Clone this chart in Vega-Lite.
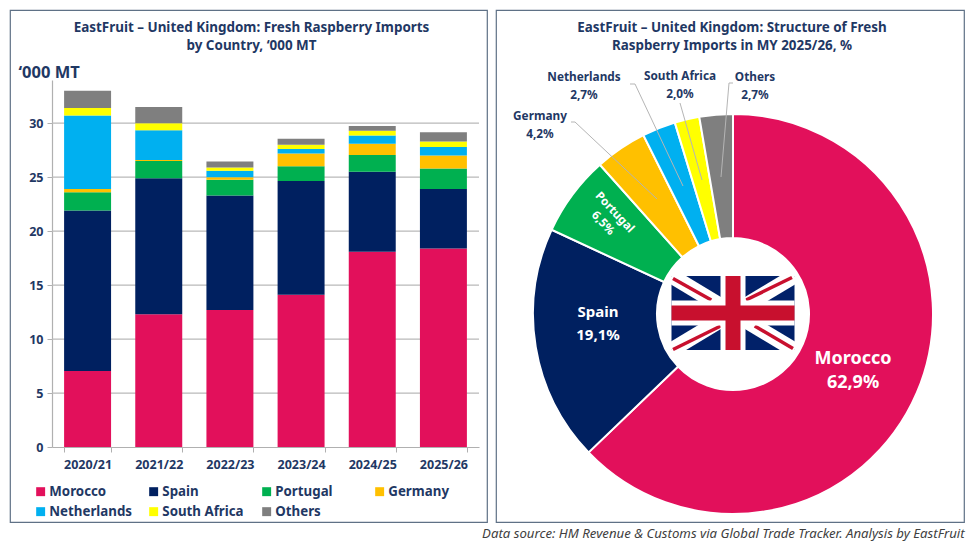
{"$schema":"https://vega.github.io/schema/vega-lite/v6.json","padding":{"left":9,"top":9,"right":4,"bottom":6},"background":"white","config":{"axis":{"disable":true},"view":{"stroke":"#5f7186","strokeWidth":1.2},"font":"Noto Sans"},
"datasets":{"imports":[
{"season":"2020/21","country":"Morocco","n":1,"kt":7.05},{"season":"2020/21","country":"Spain","n":2,"kt":14.85},{"season":"2020/21","country":"Portugal","n":3,"kt":1.7},{"season":"2020/21","country":"Germany","n":4,"kt":0.3},{"season":"2020/21","country":"Netherlands","n":5,"kt":6.8},{"season":"2020/21","country":"South Africa","n":6,"kt":0.7},{"season":"2020/21","country":"Others","n":7,"kt":1.6},
{"season":"2021/22","country":"Morocco","n":1,"kt":12.3},{"season":"2021/22","country":"Spain","n":2,"kt":12.6},{"season":"2021/22","country":"Portugal","n":3,"kt":1.6},{"season":"2021/22","country":"Germany","n":4,"kt":0.1},{"season":"2021/22","country":"Netherlands","n":5,"kt":2.75},{"season":"2021/22","country":"South Africa","n":6,"kt":0.65},{"season":"2021/22","country":"Others","n":7,"kt":1.5},
{"season":"2022/23","country":"Morocco","n":1,"kt":12.7},{"season":"2022/23","country":"Spain","n":2,"kt":10.6},{"season":"2022/23","country":"Portugal","n":3,"kt":1.45},{"season":"2022/23","country":"Germany","n":4,"kt":0.25},{"season":"2022/23","country":"Netherlands","n":5,"kt":0.6},{"season":"2022/23","country":"South Africa","n":6,"kt":0.3},{"season":"2022/23","country":"Others","n":7,"kt":0.55},
{"season":"2023/24","country":"Morocco","n":1,"kt":14.1},{"season":"2023/24","country":"Spain","n":2,"kt":10.55},{"season":"2023/24","country":"Portugal","n":3,"kt":1.35},{"season":"2023/24","country":"Germany","n":4,"kt":1.2},{"season":"2023/24","country":"Netherlands","n":5,"kt":0.4},{"season":"2023/24","country":"South Africa","n":6,"kt":0.4},{"season":"2023/24","country":"Others","n":7,"kt":0.55},
{"season":"2024/25","country":"Morocco","n":1,"kt":18.1},{"season":"2024/25","country":"Spain","n":2,"kt":7.4},{"season":"2024/25","country":"Portugal","n":3,"kt":1.55},{"season":"2024/25","country":"Germany","n":4,"kt":1.05},{"season":"2024/25","country":"Netherlands","n":5,"kt":0.75},{"season":"2024/25","country":"South Africa","n":6,"kt":0.45},{"season":"2024/25","country":"Others","n":7,"kt":0.45},
{"season":"2025/26","country":"Morocco","n":1,"kt":18.4},{"season":"2025/26","country":"Spain","n":2,"kt":5.5},{"season":"2025/26","country":"Portugal","n":3,"kt":1.9},{"season":"2025/26","country":"Germany","n":4,"kt":1.2},{"season":"2025/26","country":"Netherlands","n":5,"kt":0.8},{"season":"2025/26","country":"South Africa","n":6,"kt":0.5},{"season":"2025/26","country":"Others","n":7,"kt":0.85}],
"structure":[{"country":"Morocco","n":1,"share":62.9,"label":"Morocco\n62,9%"},{"country":"Spain","n":2,"share":19.1,"label":"Spain\n19,1%"},{"country":"Portugal","n":3,"share":6.5,"label":"Portugal\n6,5%"},{"country":"Germany","n":4,"share":4.2,"label":"Germany\n4,2%"},{"country":"Netherlands","n":5,"share":2.7,"label":"Netherlands\n2,7%"},{"country":"South Africa","n":6,"share":2.0,"label":"South Africa\n2,0%"},{"country":"Others","n":7,"share":2.7,"label":"Others\n2,7%"}],
"ticks":[{"tick":5},{"tick":10},{"tick":15},{"tick":20},{"tick":25},{"tick":30}],
"decor":[{"part":"decor"}]},
"title":{"text":"Data source: HM Revenue & Customs via Global Trade Tracker. Analysis by EastFruit","orient":"bottom","anchor":"end","offset":5,"fontSize":13.2,"fontStyle":"italic","fontWeight":"normal","color":"#404040","font":"Noto Sans"},
"spacing":7,
"hconcat":[
{"width":477,"height":512,
"title":{"text":["EastFruit – United Kingdom: Fresh Raspberry Imports","by Country, ‘000 MT"],"offset":-42,"anchor":"middle","fontSize":13.45,"fontWeight":"bold","color":"#1f3864","font":"Noto Sans","lineHeight":18,"dx":3},
"layer":[
{"data":{"name":"ticks"},"mark":{"type":"rule","color":"#b9b9b9","strokeWidth":1.2},"encoding":{"x":{"datum":0,"scale":{"domain":[0,1],"range":[42,469]}},"x2":{"datum":1},"y":{"field":"tick","type":"quantitative","scale":{"domain":[0,34],"range":[437,70],"nice":false},"axis":{"disable":false,"offset":-42,"values":[0,5,10,15,20,25,30],"grid":false,"title":"‘000 MT","titleAngle":0,"titleX":-34,"titleY":62,"titleAlign":"left","titleBaseline":"middle","titleFont":"Noto Sans","titleFontSize":16.5,"titleFontWeight":"bold","titleColor":"#1f3864","labelFont":"Noto Sans","labelFontSize":12.5,"labelFontWeight":"bold","labelColor":"#1f3864","labelPadding":4,"domainColor":"#b0b0b0","domainWidth":1.2,"tickColor":"#b0b0b0","tickSize":5}}}},
{"data":{"name":"imports"},"mark":{"type":"bar"},"encoding":{
"x":{"field":"season","type":"nominal","scale":{"range":[42,469],"paddingInner":0.34,"paddingOuter":0.17},"axis":{"disable":false,"title":null,"offset":-75,"labelAngle":0,"labelFont":"Noto Sans","labelFontSize":12.5,"labelFontWeight":"bold","labelColor":"#1f3864","labelPadding":6,"domainColor":"#b0b0b0","domainWidth":1.2,"tickColor":"#b0b0b0","tickSize":5,"tickBand":"extent","grid":false}},
"y":{"field":"kt","type":"quantitative","stack":true,"scale":{"domain":[0,34],"range":[437,70],"nice":false}},
"color":{"field":"country","type":"nominal","scale":{"domain":["Morocco","Spain","Portugal","Germany","Netherlands","South Africa","Others"],"range":["#e2105b","#002060","#00b050","#ffc000","#00b0f0","#ffff00","#7f7f7f"]},"legend":{"title":null,"orient":"none","legendX":24,"legendY":475,"columns":4,"direction":"horizontal","gridAlign":"all","columnPadding":15,"rowPadding":6,"symbolType":"square","symbolSize":80,"symbolStrokeWidth":0,"labelFont":"Noto Sans","labelFontSize":13.3,"labelFontWeight":"bold","labelColor":"#1f3864","labelOffset":2}},
"order":{"field":"n","type":"quantitative"}}}
],"resolve":{"scale":{"x":"independent"},"axis":{"y":"independent"}}},
{"width":468,"height":512,
"title":{"text":["EastFruit – United Kingdom: Structure of Fresh","Raspberry Imports in MY 2025/26, %"],"offset":-42,"anchor":"middle","fontSize":13.4,"fontWeight":"bold","color":"#1f3864","font":"Noto Sans","lineHeight":18,"dx":2},
"layer":[
{"data":{"name":"structure"},"transform":[{"stack":"share","sort":[{"field":"n","order":"ascending"}],"as":["s0","s1"]}],"mark":{"type":"arc","outerRadius":200,"innerRadius":76,"stroke":"white","strokeWidth":2},"encoding":{"x":{"datum":0,"scale":{"domain":[-237,231],"nice":false,"zero":false}},"y":{"datum":0,"scale":{"domain":[-208,304],"nice":false,"zero":false}},"theta":{"field":"s0","type":"quantitative","scale":{"domain":[0,100.1]}},"theta2":{"field":"s1"},"color":{"field":"country","type":"nominal","scale":{"domain":["Morocco","Spain","Portugal","Germany","Netherlands","South Africa","Others"],"range":["#e2105b","#002060","#00b050","#ffc000","#00b0f0","#ffff00","#7f7f7f"]},"legend":null}}},
{"data":{"name":"decor"},"mark":{"type":"rect","color":"#012169"},"encoding":{"x":{"datum":-61.5},"x2":{"datum":61.5},"y":{"datum":38},"y2":{"datum":-36}}},
{"data":{"name":"decor"},"mark":{"type":"rule","color":"white","strokeWidth":15},"encoding":{"x":{"datum":-61.5},"x2":{"datum":61.5},"y":{"datum":38},"y2":{"datum":-36}}},
{"data":{"name":"decor"},"mark":{"type":"rule","color":"white","strokeWidth":15},"encoding":{"x":{"datum":-61.5},"x2":{"datum":61.5},"y":{"datum":-36},"y2":{"datum":38}}},
{"data":{"name":"decor"},"mark":{"type":"rule","color":"#c8102e","strokeWidth":3.5},"encoding":{"x":{"datum":-60},"x2":{"datum":-21.7},"y":{"datum":35.5},"y2":{"datum":14}}},
{"data":{"name":"decor"},"mark":{"type":"rule","color":"#c8102e","strokeWidth":3.5},"encoding":{"x":{"datum":59},"x2":{"datum":13},"y":{"datum":36.5},"y2":{"datum":14}}},
{"data":{"name":"decor"},"mark":{"type":"rule","color":"#c8102e","strokeWidth":3.5},"encoding":{"x":{"datum":-60},"x2":{"datum":-12.3},"y":{"datum":-35.5},"y2":{"datum":-12}}},
{"data":{"name":"decor"},"mark":{"type":"rule","color":"#c8102e","strokeWidth":3.5},"encoding":{"x":{"datum":60},"x2":{"datum":21.7},"y":{"datum":-34.5},"y2":{"datum":-12}}},
{"data":{"name":"decor"},"mark":{"type":"rect","color":"white"},"encoding":{"x":{"datum":-12.5},"x2":{"datum":12.5},"y":{"datum":38},"y2":{"datum":-36}}},
{"data":{"name":"decor"},"mark":{"type":"rect","color":"white"},"encoding":{"x":{"datum":-61.5},"x2":{"datum":61.5},"y":{"datum":13.5},"y2":{"datum":-11.5}}},
{"data":{"name":"decor"},"mark":{"type":"rect","color":"#c8102e"},"encoding":{"x":{"datum":-7.5},"x2":{"datum":7.5},"y":{"datum":38},"y2":{"datum":-36}}},
{"data":{"name":"decor"},"mark":{"type":"rect","color":"#c8102e"},"encoding":{"x":{"datum":-61.5},"x2":{"datum":61.5},"y":{"datum":8.5},"y2":{"datum":-6.5}}},
{"data":{"name":"decor"},"mark":{"type":"rule","color":"#b5b5b5","strokeWidth":1},"encoding":{"x":{"datum":-162},"x2":{"datum":-158},"y":{"datum":192},"y2":{"datum":192}}},
{"data":{"name":"decor"},"mark":{"type":"rule","color":"#b5b5b5","strokeWidth":1},"encoding":{"x":{"datum":-158},"x2":{"datum":-76},"y":{"datum":192},"y2":{"datum":115}}},
{"data":{"name":"decor"},"mark":{"type":"rule","color":"#b5b5b5","strokeWidth":1},"encoding":{"x":{"datum":-103},"x2":{"datum":-98},"y":{"datum":230},"y2":{"datum":230}}},
{"data":{"name":"decor"},"mark":{"type":"rule","color":"#b5b5b5","strokeWidth":1},"encoding":{"x":{"datum":-98},"x2":{"datum":-50},"y":{"datum":230},"y2":{"datum":128}}},
{"data":{"name":"decor"},"mark":{"type":"rule","color":"#b5b5b5","strokeWidth":1},"encoding":{"x":{"datum":-53},"x2":{"datum":-31},"y":{"datum":211},"y2":{"datum":134}}},
{"data":{"name":"decor"},"mark":{"type":"rule","color":"#b5b5b5","strokeWidth":1},"encoding":{"x":{"datum":0},"x2":{"datum":-4},"y":{"datum":231},"y2":{"datum":231}}},
{"data":{"name":"decor"},"mark":{"type":"rule","color":"#b5b5b5","strokeWidth":1},"encoding":{"x":{"datum":-4},"x2":{"datum":-12},"y":{"datum":231},"y2":{"datum":137}}},
{"data":{"name":"structure"},"transform":[{"filter":"datum.country=='Morocco'"}],"mark":{"type":"text","lineBreak":"\n","fontSize":18,"fontWeight":"bold","color":"white","lineHeight":24,"font":"Noto Sans"},"encoding":{"x":{"datum":120},"y":{"datum":-45},"text":{"field":"label"}}},
{"data":{"name":"structure"},"transform":[{"filter":"datum.country=='Spain'"}],"mark":{"type":"text","lineBreak":"\n","fontSize":15,"fontWeight":"bold","color":"white","lineHeight":23,"font":"Noto Sans"},"encoding":{"x":{"datum":-135},"y":{"datum":2},"text":{"field":"label"}}},
{"data":{"name":"structure"},"transform":[{"filter":"datum.country=='Portugal'"}],"mark":{"type":"text","lineBreak":"\n","fontSize":11.8,"fontWeight":"bold","color":"white","lineHeight":16,"angle":47,"font":"Noto Sans"},"encoding":{"x":{"datum":-118},"y":{"datum":102},"text":{"field":"label"}}},
{"data":{"name":"structure"},"transform":[{"filter":"datum.country=='Germany'"}],"mark":{"type":"text","lineBreak":"\n","fontSize":11.8,"fontWeight":"bold","color":"#1f3864","lineHeight":18,"font":"Noto Sans"},"encoding":{"x":{"datum":-193},"y":{"datum":198},"text":{"field":"label"}}},
{"data":{"name":"structure"},"transform":[{"filter":"datum.country=='Netherlands'"}],"mark":{"type":"text","lineBreak":"\n","fontSize":11.8,"fontWeight":"bold","color":"#1f3864","lineHeight":18,"font":"Noto Sans"},"encoding":{"x":{"datum":-149},"y":{"datum":237},"text":{"field":"label"}}},
{"data":{"name":"structure"},"transform":[{"filter":"datum.country=='South Africa'"}],"mark":{"type":"text","lineBreak":"\n","fontSize":11.8,"fontWeight":"bold","color":"#1f3864","lineHeight":18,"font":"Noto Sans"},"encoding":{"x":{"datum":-53},"y":{"datum":238},"text":{"field":"label"}}},
{"data":{"name":"structure"},"transform":[{"filter":"datum.country=='Others'"}],"mark":{"type":"text","lineBreak":"\n","fontSize":11.8,"fontWeight":"bold","color":"#1f3864","lineHeight":18,"font":"Noto Sans"},"encoding":{"x":{"datum":22},"y":{"datum":237},"text":{"field":"label"}}}
]}
],"resolve":{"scale":{"color":"independent"}}}
